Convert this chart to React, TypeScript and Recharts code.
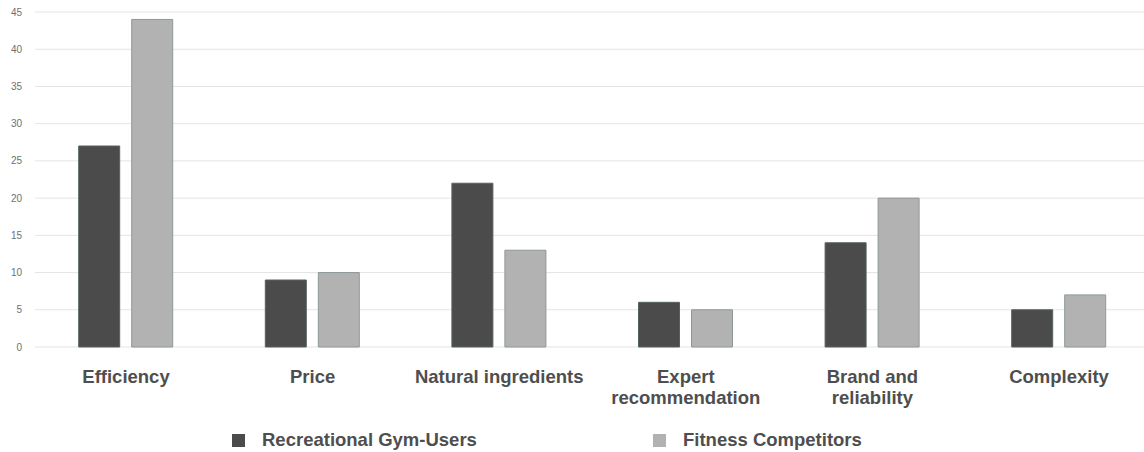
import React from "react";
import { BarChart, Bar, XAxis, YAxis, CartesianGrid, Legend } from "recharts";

const categories = [
  "Efficiency",
  "Price",
  "Natural ingredients",
  "Expert recommendation",
  "Brand and reliability",
  "Complexity",
];
const tickLabelLines = [
  ["Efficiency"],
  ["Price"],
  ["Natural ingredients"],
  ["Expert", "recommendation"],
  ["Brand and", "reliability"],
  ["Complexity"],
];
const recreationalGymUsers = [27, 9, 22, 6, 14, 5];
const fitnessCompetitors = [44, 10, 13, 5, 20, 7];
const yTicks = [0, 5, 10, 15, 20, 25, 30, 35, 40, 45];
const seriesNames = ["Recreational Gym-Users", "Fitness Competitors"];

const data = categories.map((c, i) => ({
  name: c,
  idx: i,
  rec: recreationalGymUsers[i],
  fit: fitnessCompetitors[i],
}));

const FONT = '"Liberation Sans", Arial, sans-serif';
const DARK = "#4b4b4b";
const LIGHT = "#b2b2b2";
const TEXT = "#4e4e4e";

const CategoryTick = (props: any) => {
  const { x, y, payload } = props;
  const lines = tickLabelLines[payload.index] || [String(payload.value)];
  return (
    <text
      x={x}
      y={y}
      textAnchor="middle"
      fill={TEXT}
      fontFamily={FONT}
      fontSize={18.5}
      fontWeight="bold"
    >
      {lines.map((l: string, k: number) => (
        <tspan key={k} x={x} dy={k === 0 ? 36 : 21}>
          {l}
        </tspan>
      ))}
    </text>
  );
};

const LegendContent = () => (
  <div style={{ position: "relative", width: 1144, height: 45, fontFamily: FONT }}>
    {[
      { name: seriesNames[0], color: DARK, left: 232, textLeft: 262 },
      { name: seriesNames[1], color: LIGHT, left: 653, textLeft: 683 },
    ].map((it) => (
      <React.Fragment key={it.name}>
        <div
          style={{
            position: "absolute",
            left: it.left,
            top: 27,
            width: 13,
            height: 13,
            background: it.color,
          }}
        />
        <div
          style={{
            position: "absolute",
            left: it.textLeft,
            top: 23,
            lineHeight: "20px",
            fontSize: 18.5,
            fontWeight: "bold",
            color: TEXT,
            whiteSpace: "nowrap",
          }}
        >
          {it.name}
        </div>
      </React.Fragment>
    ))}
  </div>
);

export default function App() {
  return (
    <div style={{ position: "absolute", left: 0, top: 0, width: 1144, height: 452, background: "#fff" }}>
      <BarChart
        width={1144}
        height={452}
        data={data}
        margin={{ top: 12, right: 0, bottom: 0, left: 0 }}
        barSize={41}
        barGap={12}
      >
        <CartesianGrid vertical={false} stroke="#e4e4e4" strokeWidth={1} />
        <XAxis
          dataKey="name"
          axisLine={false}
          tickLine={false}
          tickSize={0}
          tickMargin={0}
          height={60}
          interval={0}
          padding={{ left: -2.3, right: -8.3 }}
          tick={<CategoryTick />}
        />
        <YAxis
          width={35}
          domain={[0, 45]}
          ticks={yTicks}
          axisLine={false}
          tickLine={false}
          tickSize={0}
          tickMargin={13}
          tick={{ fill: "#707070", fontSize: 10, fontFamily: FONT }}
        />
        <Legend
          verticalAlign="bottom"
          content={<LegendContent />}
          wrapperStyle={{ left: 0, top: 407, width: 1144, height: 45 }}
        />
        <Bar dataKey="rec" name={seriesNames[0]} fill={DARK} stroke="#56625f" strokeWidth={1} isAnimationActive={false} />
        <Bar dataKey="fit" name={seriesNames[1]} fill={LIGHT} stroke="#8e989b" strokeWidth={1} isAnimationActive={false} />
      </BarChart>
    </div>
  );
}
